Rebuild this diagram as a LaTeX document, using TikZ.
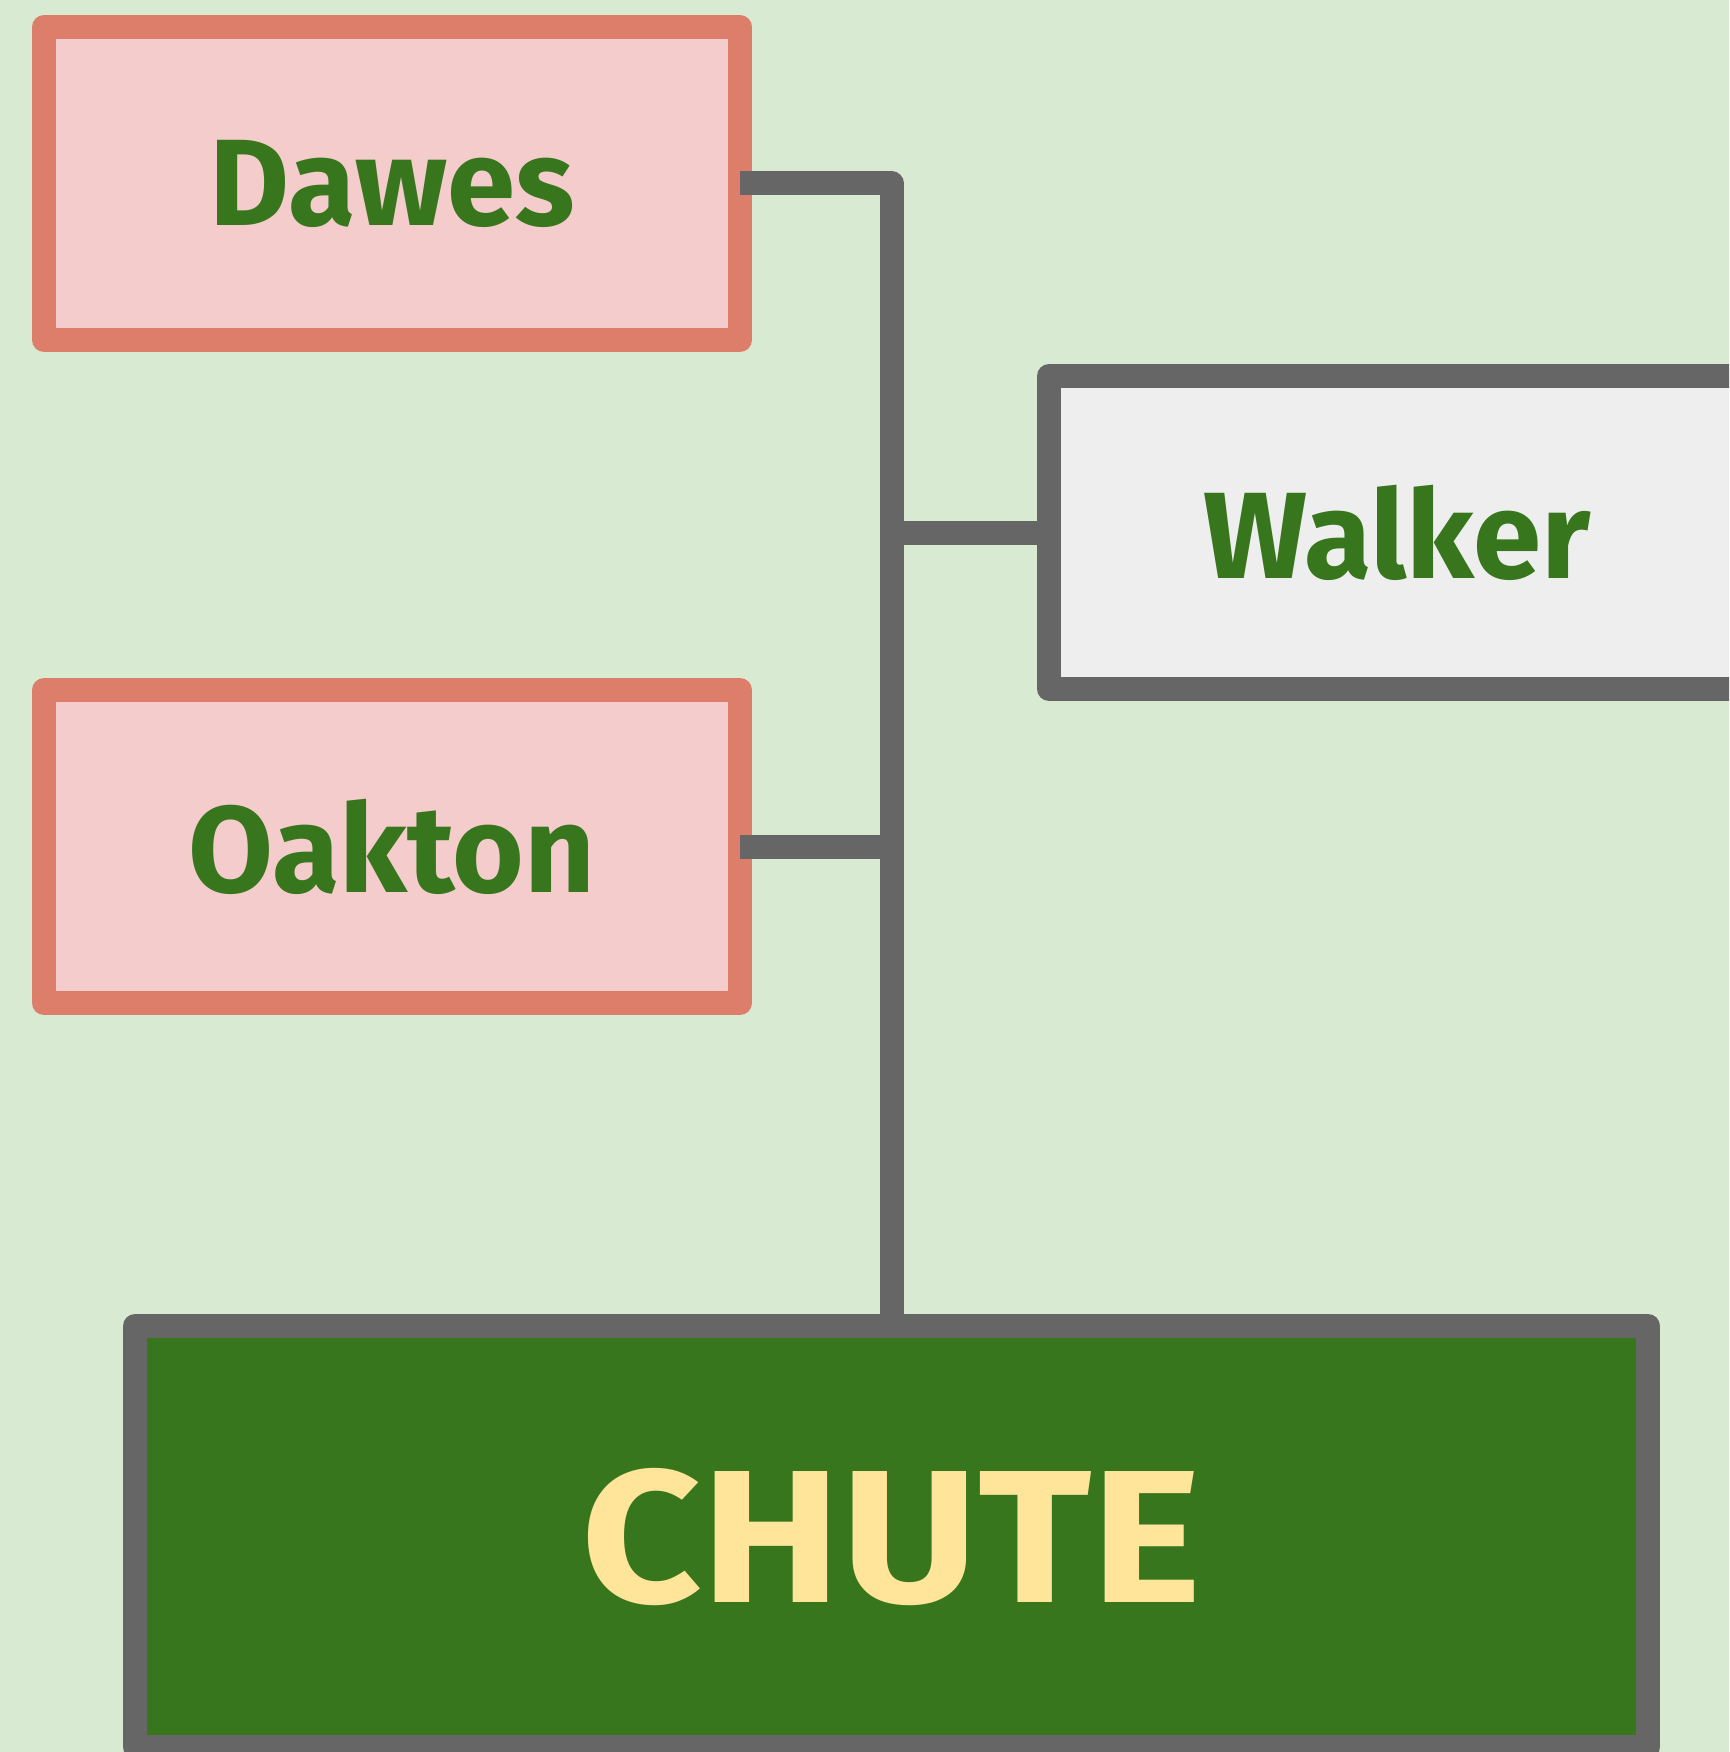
\documentclass[tikz,border=0pt]{standalone}
\usepackage{fontspec}
\setmainfont{Fira Sans}
\newfontfamily\wideface[FakeStretch=1.11]{Fira Sans}
\usepackage{tikz}
\usetikzlibrary{positioning}

\definecolor{bgGreen}{HTML}{D9EAD3}
\definecolor{redLine}{HTML}{DD7E6B}
\definecolor{redFill}{HTML}{F4CCCC}
\definecolor{greyLine}{HTML}{666666}
\definecolor{greyFill}{HTML}{EEEEEE}
\definecolor{darkGreen}{HTML}{38761D}
\definecolor{paleYellow}{HTML}{FFE599}

\begin{document}
\begin{tikzpicture}[x=1pt, y=-1pt]
			\tikzstyle{Stop}	= [rectangle, draw, line width=24pt, line join=round, inner sep=0pt, outer sep=0pt, minimum width=696pt, minimum height=313pt, font=\fontsize{123}{140}\selectfont\bfseries, text=darkGreen]
			\tikzstyle{Feed}	= [draw=redLine, fill=redFill]
			\tikzstyle{Hub}		= [draw=greyLine, fill=greyFill]
			\tikzstyle{Sink}	= [draw=greyLine, fill=darkGreen, text=paleYellow, minimum width=1513pt, minimum height=421pt, font=\wideface\fontsize{189}{210}\selectfont\bfseries]
			\tikzstyle{Link}	= [greyLine, line width=24pt, line join=round]

			\useasboundingbox (0,0) rectangle (1729,1752);
			\fill [bgGreen] (0,0) rectangle (1729,1752);
			\clip (0,0) rectangle (1729,1752);

			\node (dawes) at (392,183.5) [Stop][Feed] {Dawes};
			\node (oakton) at (392,846.5) [Stop][Feed] {Oakton};
			\node (walker) at (1397,532.5) [Stop][Hub] {Walker};
			\node (chute) at (891.5,1536.5) [Stop][Sink] {CHUTE};

			\draw [-] (dawes.east) -| (chute.north |- walker.west) -- (walker.west) [Link];
			\draw [-] (walker.west) -| (chute.north) [Link];
			\draw [-] (oakton.east) -| (chute.north) [Link];
		\end{tikzpicture}
\end{document}
